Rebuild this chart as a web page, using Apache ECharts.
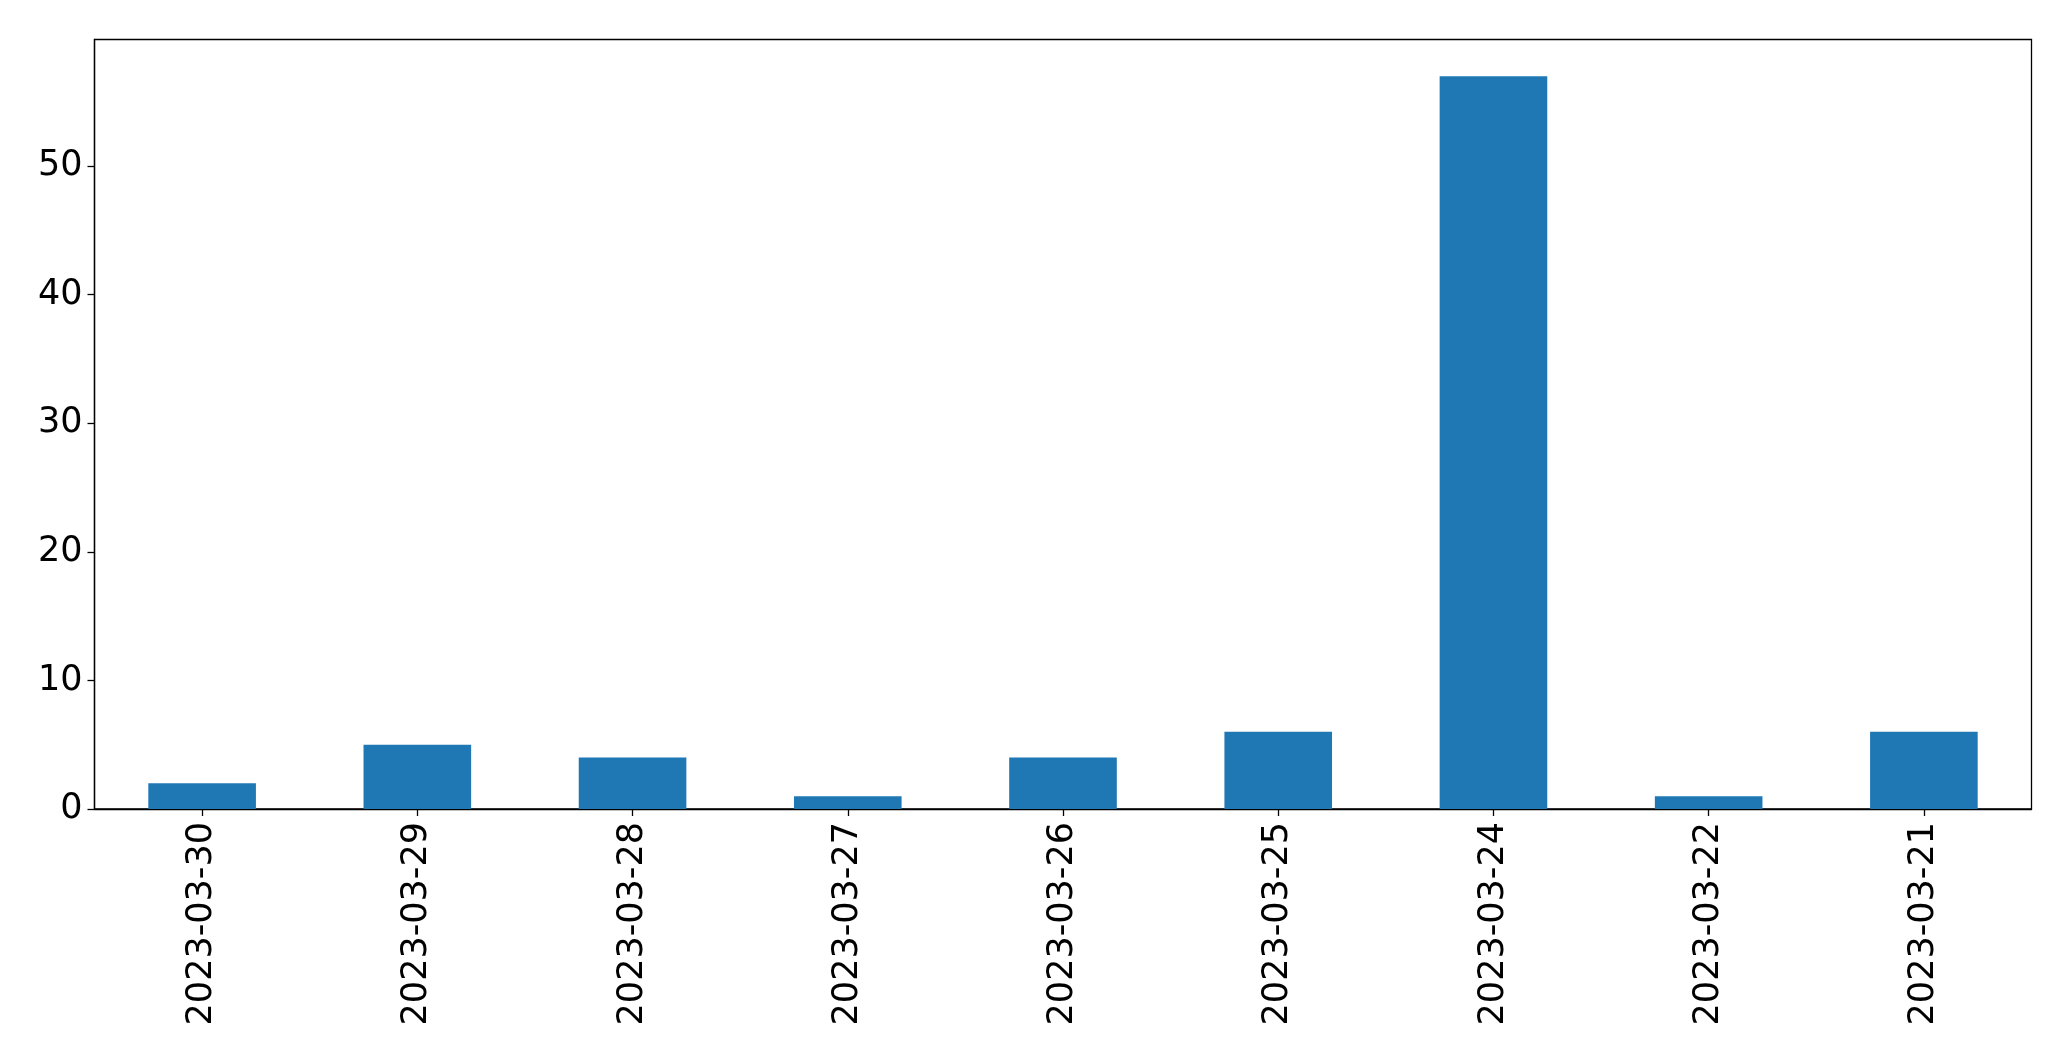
<!DOCTYPE html>
<html><head><meta charset="utf-8">
<script src="https://cdn.jsdelivr.net/npm/echarts@6/dist/echarts.min.js"></script>
<style>html,body{margin:0;padding:0;background:#fff}#c{width:2071px;height:1061px}</style>
</head><body><div id="c"></div>
<script>
const categories = ["2023-03-30","2023-03-29","2023-03-28","2023-03-27","2023-03-26","2023-03-25","2023-03-24","2023-03-22","2023-03-21"];
const values = [2,5,4,1,4,6,57,1,6];
const yTicks = [0,10,20,30,40,50];
const yMax = 59.85;

const chart = echarts.init(document.getElementById('c'), null, {renderer:'canvas'});
const font = '"DejaVu Sans", sans-serif';
chart.setOption({
  animation:false,
  grid:{left:94.5,right:39.5,top:39.5,bottom:252,show:true,borderColor:'#000',borderWidth:1.3,backgroundColor:'transparent'},
  xAxis:{type:'category',data:categories,
    axisLine:{show:true,lineStyle:{color:'#000',width:1.3}},
    axisTick:{show:true,alignWithLabel:true,length:7,lineStyle:{color:'#000',width:1.3}},
    axisLabel:{rotate:90,color:'#000',fontSize:35,fontFamily:font,margin:13,interval:0}},
  yAxis:{type:'value',min:0,max:yMax,interval:10,
    splitLine:{show:false},
    axisLine:{show:true,lineStyle:{color:'#000',width:1.3}},
    axisTick:{show:true,length:7,lineStyle:{color:'#000',width:1.3}},
    axisLabel:{color:'#000',fontSize:35,fontFamily:font,margin:12,showMaxLabel:false,
      formatter:v=>yTicks.includes(v)?String(v):''}},
  series:[{type:'bar',data:values,barWidth:'50%',itemStyle:{color:'#1f77b4'}}]
});
</script></body></html>
